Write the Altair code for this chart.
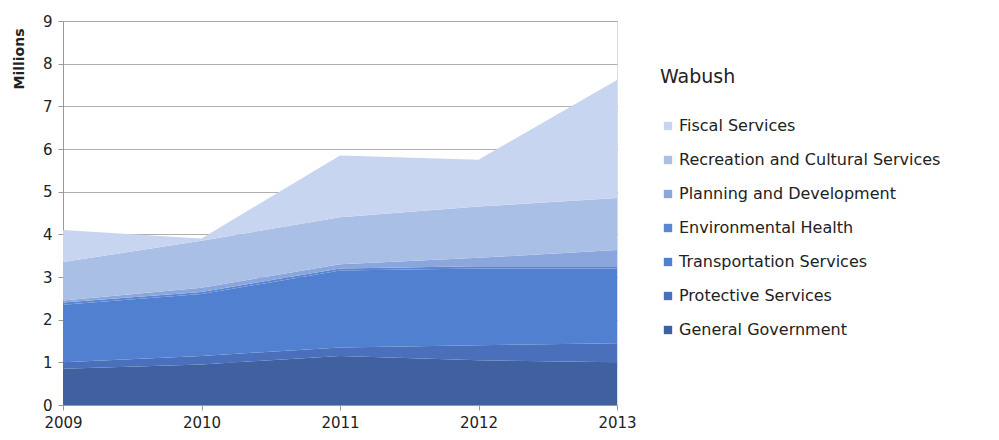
import altair as alt
import pandas as pd

years = ["2009", "2010", "2011", "2012", "2013"]
categories = [
    "Fiscal Services",
    "Recreation and Cultural Services",
    "Planning and Development",
    "Environmental Health",
    "Transportation Services",
    "Protective Services",
    "General Government",
]
colors = ["#c8d5f0", "#a9bfe6", "#8ba6dd", "#5a86d2", "#5180d0", "#4a70bb", "#40609f"]

general_government = [0.85, 0.95, 1.15, 1.05, 1.00]
protective = [0.15, 0.20, 0.20, 0.35, 0.45]
transportation = [1.35, 1.45, 1.80, 1.80, 1.75]
environmental = [0.05, 0.05, 0.05, 0.05, 0.05]
planning = [0.05, 0.10, 0.10, 0.20, 0.38]
recreation = [0.90, 1.10, 1.10, 1.20, 1.22]
fiscal = [0.75, 0.05, 1.45, 1.10, 2.77]

series = {
    "General Government": general_government,
    "Protective Services": protective,
    "Transportation Services": transportation,
    "Environmental Health": environmental,
    "Planning and Development": planning,
    "Recreation and Cultural Services": recreation,
    "Fiscal Services": fiscal,
}

rows = []
for rank, (name, vals) in enumerate(series.items()):
    for y, v in zip(years, vals):
        rows.append({"Year": y, "Service": name, "Value": v, "rank": rank})
df = pd.DataFrame(rows)

FONT = "DejaVu Sans"

chart = (
    alt.Chart(df)
    .mark_area(interpolate="linear", opacity=1)
    .encode(
        x=alt.X(
            "Year:O",
            scale=alt.Scale(type="point", padding=0),
            axis=alt.Axis(
                title=None,
                labelAngle=0,
                labelFontSize=15,
                labelColor="#222",
                labelFont=FONT,
                domainColor="#999",
                tickColor="#999",
                tickSize=5,
                labelPadding=5,
                grid=False,
            ),
        ),
        y=alt.Y(
            "Value:Q",
            stack="zero",
            scale=alt.Scale(domain=[0, 9], nice=False),
            axis=alt.Axis(
                title="Millions",
                titleFont=FONT,
                titleFontSize=14,
                titleFontWeight="bold",
                titleColor="#222",
                titleAngle=270,
                titleAlign="right",
                titleBaseline="middle",
                titleX=-44,
                titleY=7,
                values=list(range(10)),
                labelFontSize=15,
                labelColor="#222",
                labelFont=FONT,
                domainColor="#999",
                tickColor="#999",
                tickSize=5,
                labelPadding=6,
                grid=True,
                gridColor="#9a9a9a",
                gridWidth=0.8,
            ),
        ),
        color=alt.Color(
            "Service:N",
            scale=alt.Scale(domain=categories, range=colors),
            legend=alt.Legend(
                title="Wabush",
                titleFont=FONT,
                titleFontSize=19,
                titleFontWeight="normal",
                titleColor="#222",
                titlePadding=31,
                labelFont=FONT,
                labelFontSize=16,
                labelColor="#222",
                labelLimit=400,
                symbolType="square",
                symbolSize=70,
                symbolStrokeWidth=0,
                rowPadding=18,
                labelOffset=3,
                orient="none",
                legendX=597,
                legendY=47,
            ),
        ),
        order=alt.Order("rank:Q", sort="ascending"),
    )
    .properties(
        width=554,
        height=384,
        autosize=alt.AutoSizeParams(type="none"),
        padding={"left": 63, "top": 21, "right": 382, "bottom": 35},
    )
    .configure_view(stroke=None)
    .configure(background="white")
)

chart.save("out.html", embed_options={"renderer": "svg", "actions": False})
